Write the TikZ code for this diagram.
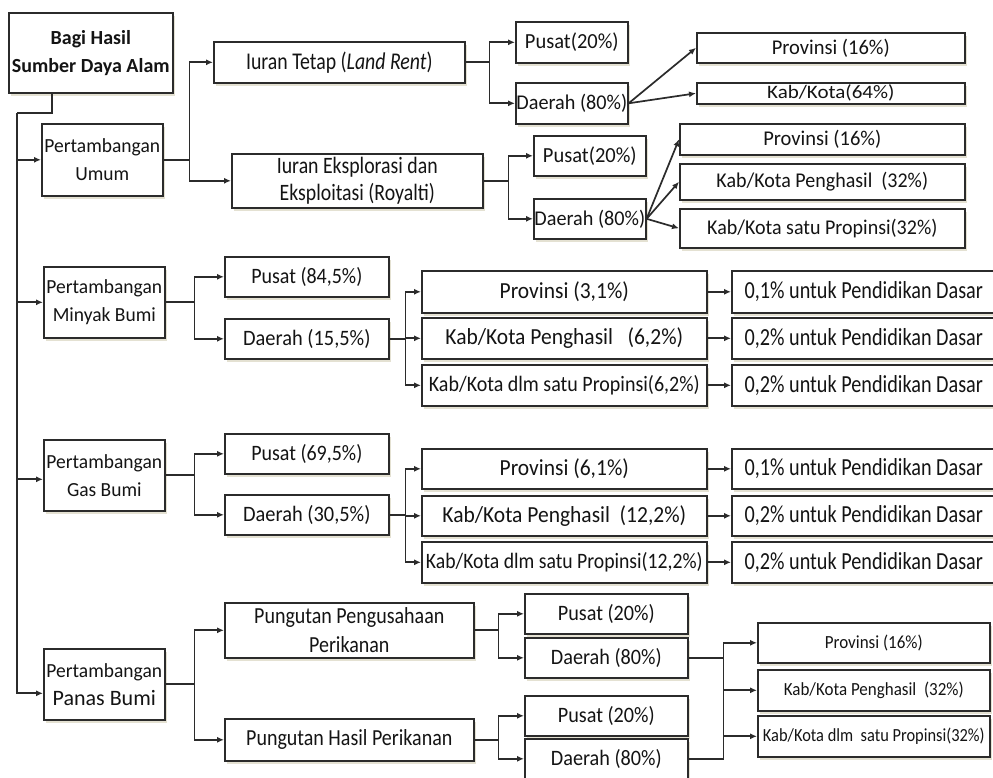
\documentclass[tikz,border=0pt]{standalone}
\usepackage{fontspec}
\setmainfont{Carlito}
\usetikzlibrary{arrows.meta,shadows}
\definecolor{linec}{HTML}{2B2B2B}
\definecolor{shd}{HTML}{E4E1D2}
\definecolor{txtc}{HTML}{141414}
\newcommand\tx[3]{\scalebox{#1}[#2]{\fontsize{10}{12}\selectfont #3}}
\newcommand\bxx[7][]{\node[box,#1,minimum width={(#5-#3)*1pt},minimum height={(#6-#4)*1pt},anchor=north west] (#2) at (#3,#4) {#7};}
\begin{document}
\begin{tikzpicture}[x=1pt,y=-1pt,
  box/.style={draw=linec,line width=1.6pt,fill=white,inner sep=0pt,align=center,text=txtc,
    font=\fontsize{10}{28}\selectfont,
    drop shadow={shadow xshift=2.5pt,shadow yshift=-3pt,fill=shd,opacity=1}},
  ln/.style={draw=linec,line width=1.7pt},
  arr/.style={draw=linec,line width=1.7pt,-{Latex[length=7pt,width=6pt]}}]
\useasboundingbox (0,0) rectangle (993,777);
\fill[white] (0,0) rectangle (993,777);
% column 1
\bxx{root}{8}{12}{172}{92}{\tx{2.0}{2.0}{\bfseries Bagi Hasil}\\\tx{2.0}{2.0}{\bfseries Sumber Daya Alam}}
\bxx{pu}{41}{123}{162}{195}{\tx{1.95}{2.0}{Pertambangan}\\\tx{1.95}{2.0}{Umum}}
\bxx{pmb}{43}{266}{164}{337}{\tx{1.95}{2.0}{Pertambangan}\\\tx{1.95}{2.0}{Minyak Bumi}}
\bxx{pgb}{43}{439}{164}{510}{\tx{1.95}{2.0}{Pertambangan}\\\tx{1.95}{2.0}{Gas Bumi}}
\bxx{ppb}{43}{648}{164}{719}{\tx{1.95}{2.0}{Pertambangan}\\\tx{2.2}{2.2}{Panas Bumi}}
% umum
\bxx{it}{213}{41}{464}{82}{\tx{1.98}{2.4}{Iuran Tetap (\textit{Land Rent})}}
\bxx[font=\fontsize{10}{27}\selectfont]{ie}{231}{153}{482}{207}{\tx{1.98}{2.35}{Iuran Eksplorasi dan}\\\tx{1.98}{2.35}{Eksploitasi (Royalti)}}
\bxx{p1}{515}{21}{627}{62}{\tx{2.05}{2.15}{Pusat(20\%)}}
\bxx{d1}{515}{82}{627}{123}{\tx{2.02}{2.1}{Daerah (80\%)}}
\bxx{pr1}{696}{32}{964}{62}{\tx{2.05}{2.1}{Provinsi (16\%)}}
\bxx{kk1}{696}{82}{964}{103}{\tx{2.1}{1.9}{Kab/Kota(64\%)}}
\bxx{p2}{533}{135}{645}{175}{\tx{2.05}{2.15}{Pusat(20\%)}}
\bxx{d2}{533}{198}{645}{238}{\tx{2.02}{2.1}{Daerah (80\%)}}
\bxx{pr2}{679}{123}{964}{154}{\tx{2.05}{2.1}{Provinsi (16\%)}}
\bxx{kp2}{679}{163}{964}{199}{\tx{2.0}{2.1}{Kab/Kota Penghasil\ \ (32\%)}}
\bxx{ks2}{679}{208}{964}{247}{\tx{2.0}{2.1}{Kab/Kota satu Propinsi(32\%)}}
% minyak
\bxx{p3}{224}{256}{388}{296}{\tx{2.0}{2.2}{Pusat (84,5\%)}}
\bxx{d3}{224}{318}{388}{358}{\tx{2.04}{2.2}{Daerah (15,5\%)}}
\bxx{pr3}{421}{270}{706}{312}{\tx{2.15}{2.3}{Provinsi (3,1\%)}}
\bxx{kp3}{421}{317}{706}{358}{\tx{2.15}{2.3}{Kab/Kota Penghasil\ \ \ (6,2\%)}}
\bxx{ks3}{421}{364}{706}{405}{\tx{2.0}{2.2}{Kab/Kota dlm satu Propinsi(6,2\%)}}
\bxx{e31}{731}{270}{995}{312}{\tx{2.02}{2.45}{0,1\% untuk Pendidikan Dasar}}
\bxx{e32}{731}{317}{995}{358}{\tx{2.02}{2.45}{0,2\% untuk Pendidikan Dasar}}
\bxx{e33}{731}{364}{995}{405}{\tx{2.02}{2.45}{0,2\% untuk Pendidikan Dasar}}
% gas
\bxx{p4}{224}{433}{388}{473}{\tx{2.0}{2.2}{Pusat (69,5\%)}}
\bxx{d4}{224}{494}{388}{534}{\tx{2.04}{2.2}{Daerah (30,5\%)}}
\bxx{pr4}{421}{448}{706}{488}{\tx{2.15}{2.3}{Provinsi (6,1\%)}}
\bxx{kp4}{421}{495}{706}{535}{\tx{2.15}{2.3}{Kab/Kota Penghasil\ \ (12,2\%)}}
\bxx{ks4}{421}{541}{706}{582}{\tx{1.97}{2.2}{Kab/Kota dlm satu Propinsi(12,2\%)}}
\bxx{e41}{731}{448}{995}{488}{\tx{2.02}{2.45}{0,1\% untuk Pendidikan Dasar}}
\bxx{e42}{731}{495}{995}{535}{\tx{2.02}{2.45}{0,2\% untuk Pendidikan Dasar}}
\bxx{e43}{731}{541}{995}{582}{\tx{2.02}{2.45}{0,2\% untuk Pendidikan Dasar}}
% panas
\bxx[font=\fontsize{10}{29}\selectfont]{ppp}{224}{602}{473}{657}{\tx{2.0}{2.3}{Pungutan Pengusahaan}\\\tx{2.0}{2.3}{Perikanan}}
\bxx{php}{224}{718}{473}{760}{\tx{2.0}{2.3}{Pungutan Hasil Perikanan}}
\bxx{p5}{524}{593}{687}{633}{\tx{2.02}{2.2}{Pusat (20\%)}}
\bxx{d5}{524}{637}{687}{677}{\tx{2.02}{2.2}{Daerah (80\%)}}
\bxx{p6}{524}{695}{687}{735}{\tx{2.02}{2.2}{Pusat (20\%)}}
\bxx{d6}{524}{738}{687}{778}{\tx{2.02}{2.2}{Daerah (80\%)}}
\bxx{pr7}{757}{622}{989}{662}{\tx{1.7}{1.85}{Provinsi (16\%)}}
\bxx{kp7}{757}{669}{989}{710}{\tx{1.7}{1.85}{Kab/Kota Penghasil\ \ (32\%)}}
\bxx{ks7}{757}{715}{989}{756}{\tx{1.64}{1.85}{Kab/Kota dlm\ \ satu Propinsi(32\%)}}
% trunk
\coordinate (trunk) at (17,113);
\draw[ln] ([xshift=44pt]root.south west) |- (trunk);
\draw[arr] (trunk) |- (pu.west);
\draw[arr] (trunk) |- (pmb.west);
\draw[arr] (trunk) |- ([yshift=-4pt]pgb.west);
\draw[arr] (trunk) |- ([yshift=-9pt]ppb.west);
% umum
\draw[arr] (pu.east) -- ++(26,0) |- (it.west);
\draw[arr] (pu.east) -- ++(26,0) |- (ie.west);
\draw[arr] (it.east) -- ++(24,0) |- (p1.west);
\draw[arr] (it.east) -- ++(24,0) |- (d1.west);
\draw[arr] (d1.east) -- (pr1.west);
\draw[arr] (d1.east) -- (kk1.west);
\draw[arr] (ie.east) -- ++(25,0) |- (p2.west);
\draw[arr] (ie.east) -- ++(25,0) |- (d2.west);
\draw[arr] (d2.east) -- (pr2.west);
\draw[arr] (d2.east) -- (kp2.west);
\draw[arr] (d2.east) -- (ks2.west);
% minyak
\draw[arr] (pmb.east) -- ++(29,0) |- (p3.west);
\draw[arr] (pmb.east) -- ++(29,0) |- (d3.west);
\draw[arr] (d3.east) -- ++(16,0) |- (pr3.west);
\draw[arr] (d3.east) -- ++(16,0) |- (kp3.west);
\draw[arr] (d3.east) -- ++(16,0) |- (ks3.west);
\draw[arr] (pr3.east) -- (e31.west);
\draw[arr] (kp3.east) -- (e32.west);
\draw[arr] (ks3.east) -- (e33.west);
% gas
\draw[arr] (pgb.east) -- ++(29,0) |- (p4.west);
\draw[arr] (pgb.east) -- ++(29,0) |- (d4.west);
\draw[arr] (d4.east) -- ++(16,0) |- (pr4.west);
\draw[arr] (d4.east) -- ++(16,0) |- (kp4.west);
\draw[arr] (d4.east) -- ++(16,0) |- (ks4.west);
\draw[arr] (pr4.east) -- (e41.west);
\draw[arr] (kp4.east) -- (e42.west);
\draw[arr] (ks4.east) -- (e43.west);
% panas
\draw[arr] (ppb.east) -- ++(29,0) |- (ppp.west);
\draw[arr] (ppb.east) -- ++(29,0) |- (php.west);
\draw[arr] (ppp.east) -- ++(24,0) |- (p5.west);
\draw[arr] (ppp.east) -- ++(24,0) |- (d5.west);
\draw[arr] (php.east) -- ++(24,0) |- (p6.west);
\draw[arr] (php.east) -- ++(24,0) |- (d6.west);
\draw[ln] (d5.east) -- ++(35,0) coordinate (j5);
\draw[ln] (d6.east) -- ++(35,0) coordinate (j6);
\draw[arr] (j6) |- (pr7.west);
\draw[arr] (j6) |- (kp7.west);
\draw[arr] (j6) |- (ks7.west);
\end{tikzpicture}
\end{document}
